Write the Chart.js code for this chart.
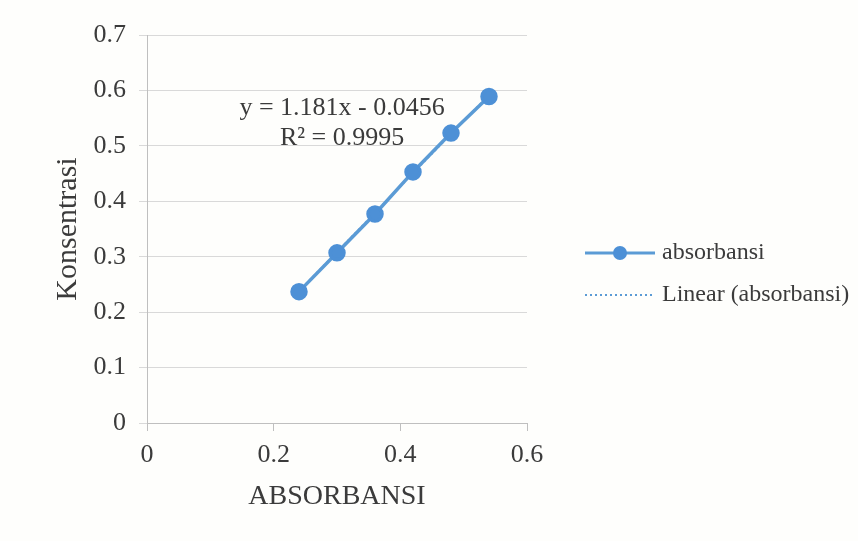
<!DOCTYPE html>
<html>
<head>
<meta charset="utf-8">
<script src="https://cdn.jsdelivr.net/npm/chart.js@4.4.1/dist/chart.umd.min.js"></script>
<style>
  html, body { margin: 0; padding: 0; background: #fff; }
  #wrap { width: 858px; height: 541px; }
</style>
</head>
<body>
<div id="wrap"><canvas id="mycanvas" width="858" height="541"></canvas></div>
<script>
// values
var absorbansi = [0.24, 0.30, 0.36, 0.42, 0.48, 0.54];
var konsentrasi = [0.237, 0.307, 0.377, 0.453, 0.523, 0.589];
var trendX = [0.24, 0.54];
var trendY = [0.238, 0.592];
var xTicks = [0, 0.2, 0.4, 0.6];
var yTicks = [0, 0.1, 0.2, 0.3, 0.4, 0.5, 0.6, 0.7];
var equation = ['y = 1.181x - 0.0456', 'R\u00b2 = 0.9995'];
var legendLabels = ['absorbansi', 'Linear (absorbansi)'];

var serif = '"Liberation Serif", "Times New Roman", serif';
var textColor = '#3b3b3b';
var blue = '#5b9bd5';
var marker = '#4d90d6';

var points = [];
for (var i in absorbansi) {
  points.push({ x: absorbansi[i], y: konsentrasi[i] });
}
var trend = [];
for (var j in trendX) {
  trend.push({ x: trendX[j], y: trendY[j] });
}

var background = {
  id: 'background',
  beforeDraw: function(chart) {
    var ctx = chart.ctx;
    ctx.save();
    ctx.fillStyle = '#fefefc';
    ctx.fillRect(0, 0, chart.width, chart.height);
    ctx.restore();
  }
};

// equation box + legend on the right, like the Excel sheet
var extras = {
  id: 'extras',
  afterDraw: function(chart) {
    var ctx = chart.ctx;
    var xs = chart.scales.x, ys = chart.scales.y;
    ctx.save();
    ctx.fillStyle = textColor;
    ctx.font = '26px ' + serif;
    ctx.textAlign = 'center';
    ctx.textBaseline = 'middle';
    var ex = xs.getPixelForValue(0.308);
    ctx.fillText(equation[0], ex, ys.getPixelForValue(0.568));
    ctx.fillText(equation[1], ex, ys.getPixelForValue(0.514));

    // legend
    ctx.textAlign = 'left';
    ctx.font = '24px ' + serif;
    ctx.strokeStyle = blue;
    ctx.lineWidth = 3;
    ctx.beginPath();
    ctx.moveTo(585, 253);
    ctx.lineTo(655, 253);
    ctx.stroke();
    ctx.fillStyle = marker;
    ctx.beginPath();
    ctx.arc(620, 253, 7, 0, Math.PI * 2);
    ctx.fill();
    ctx.fillStyle = textColor;
    ctx.fillText(legendLabels[0], 662, 253);

    ctx.strokeStyle = blue;
    ctx.lineWidth = 2;
    ctx.setLineDash([2, 3]);
    ctx.beginPath();
    ctx.moveTo(585, 295);
    ctx.lineTo(655, 295);
    ctx.stroke();
    ctx.setLineDash([]);
    ctx.fillText(legendLabels[1], 662, 295);
    ctx.restore();
  }
};

var ctx = document.getElementById('mycanvas');
var chart = new Chart(ctx, {
  type: 'scatter',
  data: {
    datasets: [
      {
        label: legendLabels[0],
        data: points,
        showLine: true,
        borderColor: blue,
        borderWidth: 3.5,
        backgroundColor: marker,
        pointBackgroundColor: marker,
        pointBorderColor: marker,
        pointRadius: 7
      },
      {
        label: legendLabels[1],
        data: trend,
        showLine: true,
        borderColor: '#8fbbe6',
        borderWidth: 2,
        borderDash: [2, 3],
        pointRadius: 0
      }
    ]
  },
  options: {
    responsive: false,
    animation: false,
    layout: { padding: { top: 35, right: 331, left: 0, bottom: 0 } },
    plugins: {
      legend: { display: false },
      tooltip: { enabled: false }
    },
    scales: {
      x: {
        type: 'linear',
        min: 0,
        max: 0.6,
        afterBuildTicks: function(s) { s.ticks = xTicks.map(function(v) { return { value: v }; }); },
        afterFit: function(s) { s.height = 118; },
        ticks: {
          color: textColor,
          font: { family: serif, size: 26 },
          padding: 9,
          maxRotation: 0,
          callback: function(v) { return String(v); }
        },
        grid: { drawOnChartArea: false, tickLength: 8, color: '#bfbfbf' },
        border: { color: '#bfbfbf' },
        title: {
          display: true,
          text: 'ABSORBANSI',
          color: textColor,
          font: { family: serif, size: 28 },
          padding: { top: 0, bottom: 28 }
        }
      },
      y: {
        type: 'linear',
        min: 0,
        max: 0.7,
        afterBuildTicks: function(s) { s.ticks = yTicks.map(function(v) { return { value: v }; }); },
        afterFit: function(s) { s.width = 147; },
        ticks: {
          color: textColor,
          font: { family: serif, size: 26 },
          padding: 13,
          callback: function(v) { return String(v); }
        },
        grid: { tickLength: 8, color: '#d9d9d9' },
        border: { color: '#bfbfbf' },
        title: {
          display: true,
          text: 'Konsentrasi',
          color: textColor,
          font: { family: serif, size: 30 },
          padding: { top: 50, bottom: 0 }
        }
      }
    }
  },
  plugins: [background, extras]
});
</script>
</body>
</html>
